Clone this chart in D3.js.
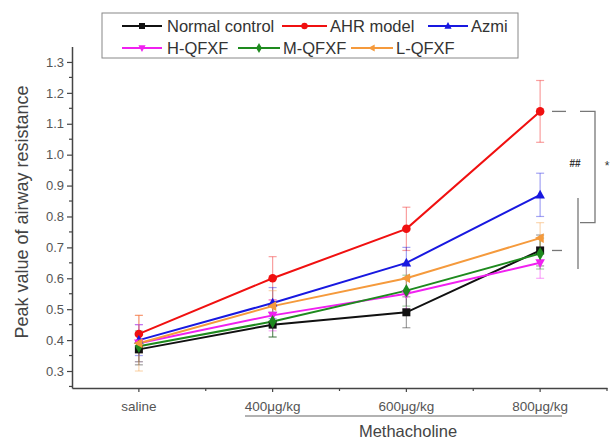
<!DOCTYPE html>
<html>
<head>
<meta charset="utf-8">
<script src="https://cdn.jsdelivr.net/npm/d3@7"></script>
<style>
  body { margin: 0; background: #fff; }
  svg { display: block; font-family: "Liberation Sans", Arial, sans-serif; }
</style>
</head>
<body>
<div id="app"></div>
<script>
// doses on the x axis
const categories = ['saline', '400μg/kg', '600μg/kg', '800μg/kg'];
const yTicks = [0.3, 0.4, 0.5, 0.6, 0.7, 0.8, 0.9, 1.0, 1.1, 1.2, 1.3];

// group names
const groups = ['Normal control', 'AHR model', 'Azmi', 'H-QFXF', 'M-QFXF', 'L-QFXF'];

// means per group
const normalControl = [0.37, 0.45, 0.49, 0.69];
const ahrModel      = [0.42, 0.60, 0.76, 1.14];
const azmi          = [0.40, 0.52, 0.65, 0.87];
const hQFXF         = [0.39, 0.48, 0.55, 0.65];
const mQFXF         = [0.38, 0.46, 0.56, 0.68];
const lQFXF         = [0.39, 0.51, 0.60, 0.73];

// error bar half-widths
const normalErr = [0.05, 0.04, 0.05, 0.05];
const ahrErr    = [0.06, 0.07, 0.07, 0.10];
const azmiErr   = [0.05, 0.05, 0.05, 0.07];
const hErr      = [0.06, 0.05, 0.05, 0.05];
const mErr      = [0.05, 0.05, 0.05, 0.05];
const lErr      = [0.09, 0.05, 0.05, 0.05];

const colors  = ['#111111', '#f01010', '#1818e0', '#f020f0', '#1e8a1e', '#f59a3c'];
const symbols = ['square', 'circle', 'triUp', 'triDown', 'diamond', 'triLeft'];

const series = [
  { name: groups[0], values: normalControl, err: normalErr },
  { name: groups[1], values: ahrModel, err: ahrErr },
  { name: groups[2], values: azmi, err: azmiErr },
  { name: groups[3], values: hQFXF, err: hErr },
  { name: groups[4], values: mQFXF, err: mErr },
  { name: groups[5], values: lQFXF, err: lErr }
];

const W = 611, H = 439;
const svg = d3.select('#app').append('svg').attr('width', W).attr('height', H);

const x = d3.scaleBand().domain(categories).range([72, 607]);
const cx = d => x(d) + x.bandwidth() / 2;
const y = d3.scaleLinear().domain([0.245, 1.35]).range([388, 46.5]);

const axisCol = '#444';
const labelCol = '#555';

// y axis
const yAxis = svg.append('g').attr('transform', 'translate(72,0)')
  .call(d3.axisLeft(y).tickValues(yTicks).tickFormat(d3.format('.1f')).tickSize(5).tickSizeOuter(0));
yAxis.select('.domain').attr('stroke', axisCol).attr('stroke-width', 1.5);
yAxis.selectAll('.tick line').attr('stroke', axisCol).attr('stroke-width', 1.2);
yAxis.selectAll('.tick text').attr('fill', labelCol).attr('font-size', 13);
// minor ticks
const yMinor = d3.range(0.25, 1.35, 0.1);
svg.append('g').selectAll('line').data(yMinor).join('line')
  .attr('x1', 69).attr('x2', 72).attr('y1', d => y(d)).attr('y2', d => y(d))
  .attr('stroke', axisCol).attr('stroke-width', 1.2);

// x axis
const xAxis = svg.append('g').attr('transform', 'translate(0,388)')
  .call(d3.axisBottom(x).tickSize(4).tickSizeOuter(0).tickPadding(9));
xAxis.select('.domain').attr('stroke', axisCol).attr('stroke-width', 1.5);
xAxis.selectAll('.tick line').attr('stroke', axisCol).attr('stroke-width', 1.2);
xAxis.selectAll('.tick text').attr('fill', labelCol).attr('font-size', 13.5);
svg.append('g').selectAll('line').data(categories.slice(1).concat(['end'])).join('line')
  .attr('x1', (d, i) => 72 + x.step() * (i + 1)).attr('x2', (d, i) => 72 + x.step() * (i + 1))
  .attr('y1', 388).attr('y2', 391)
  .attr('stroke', axisCol).attr('stroke-width', 1.2);

// underline below the methacholine doses
svg.append('line')
  .attr('x1', 245).attr('x2', 562)
  .attr('y1', 416).attr('y2', 416).attr('stroke', '#666').attr('stroke-width', 1.2);

svg.append('text').attr('x', 408).attr('y', 437).attr('text-anchor', 'middle')
  .attr('font-size', 16.5).attr('fill', '#444').text('Methacholine');

svg.append('text').attr('transform', 'translate(28,212) rotate(-90)')
  .attr('text-anchor', 'middle').attr('font-size', 18).attr('fill', '#444')
  .text('Peak value of airway resistance');

function marker(g, type, color, size) {
  const s = size;
  let path;
  if (type === 'square') path = d3.symbol(d3.symbolSquare, s * s)();
  else if (type === 'circle') path = d3.symbol(d3.symbolCircle, s * s * 0.9)();
  else if (type === 'diamond') path = d3.symbol(d3.symbolDiamond, s * s * 0.8)();
  else if (type === 'triUp') path = `M0,${-s * 0.65}L${s * 0.6},${s * 0.45}L${-s * 0.6},${s * 0.45}Z`;
  else if (type === 'triDown') path = `M0,${s * 0.65}L${s * 0.6},${-s * 0.45}L${-s * 0.6},${-s * 0.45}Z`;
  else path = `M${-s * 0.65},0L${s * 0.45},${-s * 0.6}L${s * 0.45},${s * 0.6}Z`;
  g.append('path').attr('d', path).attr('fill', color);
}

// error bars
series.forEach((s, si) => {
  const g = svg.append('g').attr('stroke', colors[si]).attr('stroke-opacity', 0.4).attr('stroke-width', 1.2);
  s.values.forEach((v, i) => {
    const xc = cx(categories[i]);
    g.append('line').attr('x1', xc).attr('x2', xc).attr('y1', y(v - s.err[i])).attr('y2', y(v + s.err[i]));
    [v - s.err[i], v + s.err[i]].forEach(e => {
      g.append('line').attr('x1', xc - 4).attr('x2', xc + 4).attr('y1', y(e)).attr('y2', y(e));
    });
  });
});

// lines and markers
const line = d3.line().x((d, i) => cx(categories[i])).y(d => y(d));
series.forEach((s, si) => {
  svg.append('path').datum(s.values).attr('d', line)
    .attr('fill', 'none').attr('stroke', colors[si]).attr('stroke-width', 2);
});
series.forEach((s, si) => {
  s.values.forEach((v, i) => {
    const g = svg.append('g').attr('transform', `translate(${cx(categories[i])},${y(v)})`);
    marker(g, symbols[si], colors[si], 8);
  });
});

// significance marks
const br = svg.append('g').attr('stroke', '#777').attr('stroke-width', 1.3).attr('fill', 'none');
br.append('line').attr('x1', 552).attr('x2', 566).attr('y1', y(ahrModel[3])).attr('y2', y(ahrModel[3]));
br.append('line').attr('x1', 552).attr('x2', 562).attr('y1', y(normalControl[3])).attr('y2', y(normalControl[3]));
br.append('path').attr('d', `M580,${y(ahrModel[3])}H595V${y(0.78)}H580`);
br.append('line').attr('x1', 578).attr('x2', 578).attr('y1', y(0.86)).attr('y2', y(0.63));
svg.append('text').attr('x', 575).attr('y', 167).attr('text-anchor', 'middle')
  .attr('font-size', 10).attr('font-weight', 'bold').attr('fill', '#333').text('##');
svg.append('text').attr('x', 607).attr('y', 170).attr('text-anchor', 'middle')
  .attr('font-size', 12).attr('fill', '#333').text('*');

// legend
const legend = svg.append('g');
legend.append('rect').attr('x', 102).attr('y', 13).attr('width', 416).attr('height', 45)
  .attr('fill', '#fff').attr('stroke', '#888').attr('stroke-width', 1);
const legPos = [
  { lx: 122, len: 40, tx: 167, ly: 26 }, { lx: 282, len: 45, tx: 330, ly: 26 }, { lx: 428, len: 40, tx: 471, ly: 26 },
  { lx: 122, len: 40, tx: 167, ly: 48 }, { lx: 238, len: 42, tx: 283, ly: 48 }, { lx: 351, len: 42, tx: 396, ly: 48 }
];
series.forEach((s, si) => {
  const p = legPos[si];
  const g = legend.append('g');
  g.append('line').attr('x1', p.lx).attr('x2', p.lx + p.len).attr('y1', p.ly).attr('y2', p.ly)
    .attr('stroke', colors[si]).attr('stroke-width', 2);
  marker(g.append('g').attr('transform', `translate(${p.lx + p.len / 2},${p.ly})`), symbols[si], colors[si], 6);
  g.append('text').attr('x', p.tx).attr('y', p.ly + 6)
    .attr('font-size', 16.5).attr('fill', '#333').text(s.name);
});
</script>
</body>
</html>
